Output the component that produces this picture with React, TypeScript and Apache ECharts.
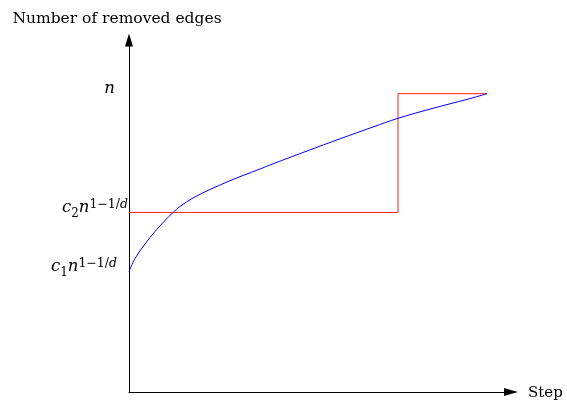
import React, { useEffect, useRef } from 'react';
import * as echarts from 'echarts';

// Blue curve (data units: both axes 0..100)
const blueX = [0, 1.57, 4.19, 6.81, 9.42, 11.52, 13.35, 16.75, 21.2, 25.65, 29.84, 34.29, 37.7, 46.6, 55.24, 63.87, 70.42, 79.58, 88.48, 93.72];
const blueY = [34.18, 37.93, 42.05, 45.6, 48.72, 50.99, 52.7, 55.11, 57.53, 59.66, 61.51, 63.35, 64.83, 68.47, 71.93, 75.28, 77.76, 80.6, 83.13, 84.74];

// Red step line
const redX = [0, 70.42, 70.42, 93.72];
const redY = [51.0, 51.0, 84.74, 84.74];

// Y tick values and labels
const tickValues = [34.18, 51.0, 84.74];
const tickLabels = [
  { c: 'c', sub: '1', n: 'n', sup: '1−1/', supIt: 'd' },
  { c: 'c', sub: '2', n: 'n', sup: '1−1/', supIt: 'd' },
  { c: '', sub: '', n: 'n', sup: '', supIt: '' },
];

const yAxisName = 'Number of removed edges';
const xAxisName = 'Step';

export default function App() {
  const ref = useRef<HTMLDivElement>(null);
  useEffect(() => {
    if (!ref.current) return;
    const chart = echarts.init(ref.current, undefined, { renderer: 'svg' });
    const FONT = 'DejaVu Serif';
    const lift = [9.4, 8.2, 9];
    const rpad = [11, 0, 13];
    const rich: any = {};
    tickLabels.forEach((_, i) => {
      const q = lift[i];
      const r = rpad[i];
      const base = { fontFamily: FONT, color: '#000', verticalAlign: 'bottom' };
      rich['m' + i] = { ...base, fontStyle: 'italic', fontSize: 16.5, padding: [0, 0, q + 4, 0] };
      rich['e' + i] = { ...base, fontStyle: 'italic', fontSize: 16.5, padding: [0, r, q + 4, 0] };
      rich['b' + i] = { ...base, fontSize: 12, padding: [0, 0, q, 0] };
      rich['s' + i] = { ...base, fontSize: 12.5, padding: [0, 0, q + 9, 0] };
      rich['t' + i] = { ...base, fontStyle: 'italic', fontSize: 12.5, padding: [0, r, q + 9, 0] };
    });
    const fmt = (v: number) => {
      const i = tickValues.findIndex((t) => Math.abs(t - v) < 1e-6);
      if (i < 0) return '';
      const L = tickLabels[i];
      if (!L.sup) return `{e${i}|${L.n}}`;
      return `{m${i}|${L.c}}{b${i}|${L.sub}}{m${i}|${L.n}}{s${i}|${L.sup}}{t${i}|${L.supIt}}`;
    };
    chart.setOption({
      animation: false,
      grid: { left: 129, right: 56, top: 40, bottom: 14 },
      xAxis: {
        type: 'value',
        min: 0,
        max: 100,
        name: xAxisName,
        nameLocation: 'end',
        nameGap: 17,
        nameTextStyle: { fontFamily: FONT, fontSize: 15, color: '#000' },
        axisLine: { show: true, symbol: ['none', 'triangle'], symbolSize: [8, 14], lineStyle: { color: '#000', width: 1 } },
        axisTick: { show: false },
        axisLabel: { show: false },
        splitLine: { show: false },
      },
      yAxis: {
        type: 'value',
        min: 0,
        max: 100,
        name: yAxisName,
        nameLocation: 'end',
        nameGap: 14,
        nameTextStyle: { fontFamily: FONT, fontSize: 15.5, color: '#000', padding: [0, 24, 0, 0] },
        axisLine: { show: true, symbol: ['none', 'triangle'], symbolSize: [8, 13], lineStyle: { color: '#000', width: 1 } },
        axisTick: { show: false },
        splitLine: { show: false },
        axisLabel: {
          show: true,
          customValues: tickValues,
          margin: 1,
          formatter: fmt,
          rich,
        },
      },
      series: [
        {
          type: 'line',
          data: redX.map((x, i) => [x, redY[i]]),
          showSymbol: false,
          lineStyle: { color: '#ff2020', width: 1 },
          z: 2,
        },
        {
          type: 'line',
          data: blueX.map((x, i) => [x, blueY[i]]),
          showSymbol: false,
          smooth: 0.35,
          lineStyle: { color: '#0000ff', width: 1 },
          z: 3,
        },
      ],
    });
    return () => chart.dispose();
  }, []);
  return <div ref={ref} style={{ position: 'fixed', left: 0, top: 0, width: 567, height: 406 }} />;
}
